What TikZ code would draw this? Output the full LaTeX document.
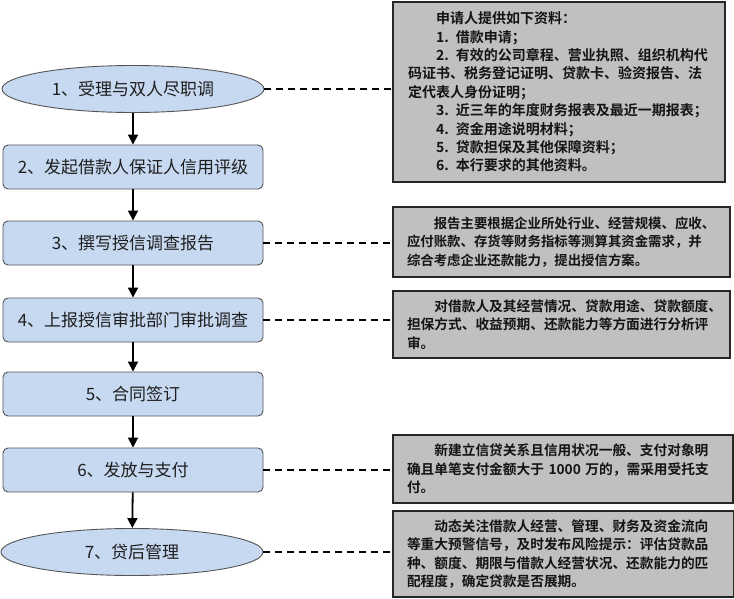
\documentclass[tikz,border=0pt]{standalone}
\usepackage{fontspec}
\setmainfont{Noto Sans CJK SC}
\newfontfamily\cjkb{Noto Sans CJK SC Bold}
\usetikzlibrary{shapes.geometric,arrows.meta}
\definecolor{stepfill}{RGB}{198,217,241}
\definecolor{stepline}{RGB}{85,85,85}
\definecolor{notefill}{RGB}{192,192,192}
\definecolor{notetext}{RGB}{20,20,20}
\definecolor{steptext}{RGB}{30,30,30}
\tikzset{
  stepbox/.style={draw=stepline, line width=0.9pt, fill=stepfill, rounded corners=5pt,
    minimum width=260pt, minimum height=44pt, inner sep=0pt, text=steptext,
    font=\fontsize{17}{20}\selectfont},
  stepell/.style={ellipse, draw=stepline, line width=0.9pt, fill=stepfill,
    minimum width=262pt, minimum height=47pt, inner sep=0pt, text=steptext,
    font=\fontsize{17}{20}\selectfont},
  notebox/.style={draw=black!85, line width=1.8pt, fill=notefill, inner xsep=14pt, inner ysep=0pt,
    align=left, text=notetext},
  flowarrow/.style={line width=1.8pt, -{Triangle[length=10pt,width=10pt]}},
  noteline/.style={line width=1.4pt, dash pattern=on 7pt off 5pt}
}
\begin{document}
\begin{tikzpicture}[x=1pt,y=-1pt]
\useasboundingbox (0,0) rectangle (734,599);
% left flow
\node[stepell] (n1) at (133,89) {1、受理与双人尽职调};
\node[stepbox] (n2) at (133,167) {2、发起借款人保证人信用评级};
\node[stepbox] (n3) at (133,243) {3、撰写授信调查报告};
\node[stepbox] (n4) at (133,320) {4、上报授信审批部门审批调查};
\node[stepbox] (n5) at (133,394) {5、合同签订};
\node[stepbox] (n6) at (133,470) {6、发放与支付};
\node[stepell] (n7) at (132,552) {7、贷后管理};
\foreach \a/\b in {n1/n2,n2/n3,n3/n4,n4/n5,n5/n6,n6/n7}
  \draw[flowarrow] (\a) -- (\b);
% notes
\node[notebox, minimum width=332pt, minimum height=180pt, text width=302pt,
  font=\cjkb\fontsize{14}{18.4}\selectfont] (r1) at (559,92) {%
\hspace*{2em}申请人提供如下资料：\\
\hspace*{2em}1. 借款申请；\\
\hspace*{2em}2. 有效的公司章程、营业执照、组织机构代\\
码证书、税务登记证明、贷款卡、验资报告、法\\
定代表人身份证明；\\
\hspace*{2em}3. 近三年的年度财务报表及最近一期报表；\\
\hspace*{2em}4. 资金用途说明材料；\\
\hspace*{2em}5. 贷款担保及其他保障资料；\\
\hspace*{2em}6. 本行要求的其他资料。};
\node[notebox, minimum width=337pt, minimum height=70pt, text width=309pt,
  font=\cjkb\fontsize{13.4}{18.3}\selectfont] (r3) at (561.5,242) {%
\hspace*{2em}报告主要根据企业所处行业、经营规模、应收、\\
应付账款、存货等财务指标等测算其资金需求，并\\
综合考虑企业还款能力，提出授信方案。};
\node[notebox, minimum width=337pt, minimum height=67pt, text width=309pt,
  font=\cjkb\fontsize{13.7}{18.3}\selectfont] (r4) at (561.5,324.5) {%
\hspace*{2em}对借款人及其经营情况、贷款用途、贷款额度、\\
担保方式、收益预期、还款能力等方面进行分析评\\
审。};
\node[notebox, minimum width=340pt, minimum height=68pt, text width=312pt,
  font=\cjkb\fontsize{13.7}{18.3}\selectfont] (r6) at (563,469) {%
\hspace*{2em}新建立信贷关系且信用状况一般、支付对象明\\
确且单笔支付金额大于 1000 万的，需采用受托支\\
付。};
\node[notebox, minimum width=341pt, minimum height=86pt, text width=313pt,
  font=\cjkb\fontsize{13.7}{18.3}\selectfont] (r7) at (563.5,554) {%
\hspace*{2em}动态关注借款人经营、管理、财务及资金流向\\
等重大预警信号，及时发布风险提示：评估贷款品\\
种、额度、期限与借款人经营状况、还款能力的匹\\
配程度，确定贷款是否展期。};
% dashed connectors
\draw[noteline] (n1.east) -- (n1.east -| r1.west);
\draw[noteline] (n3.east) -- (n3.east -| r3.west);
\draw[noteline] (n4.east) -- (n4.east -| r4.west);
\draw[noteline] (n6.east) -- (n6.east -| r6.west);
\draw[noteline] (n7.east) -- (n7.east -| r7.west);
\end{tikzpicture}
\end{document}
